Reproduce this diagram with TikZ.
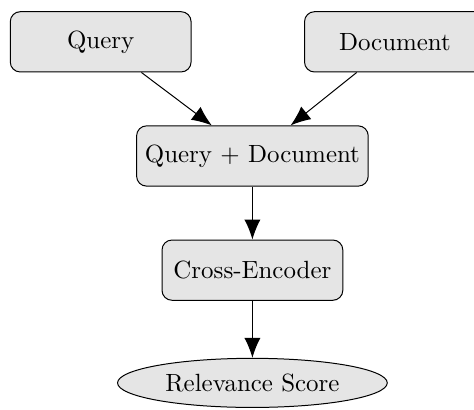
\documentclass[tikz,border=0pt]{standalone}
\usetikzlibrary{shapes.geometric,arrows.meta}

\begin{document}
\begin{tikzpicture}[>={Latex[length=8pt,width=6.5pt]},
	stage/.style={draw, rounded corners, fill=gray!20, minimum width=2.55cm, minimum height=0.85cm},
	result/.style={draw, ellipse, fill=gray!20},
	flow/.style={->}]
	
	% Fix the visible area
	\useasboundingbox (-3.56,-1.96) rectangle (3.125,3.81);
	
	% Inputs
	\node[stage] (query) at (-2.14,3.22) {Query};
	\node[stage] (doc) at (2.01,3.22) {Document};
	
	% Pipeline stages
	\node[stage] (pair) at (0,1.61) {Query + Document};
	\node[stage] (encoder) at (0,0) {Cross-Encoder};
	\node[result] (score) at (0,-1.59) {Relevance Score};
	
	% Connect the stages
	\draw[flow] (query) -- (pair);
	\draw[flow] (doc) -- (pair);
	\draw[flow] (pair) -- (encoder);
	\draw[flow] (encoder) -- (score);
	
\end{tikzpicture}
\end{document}
